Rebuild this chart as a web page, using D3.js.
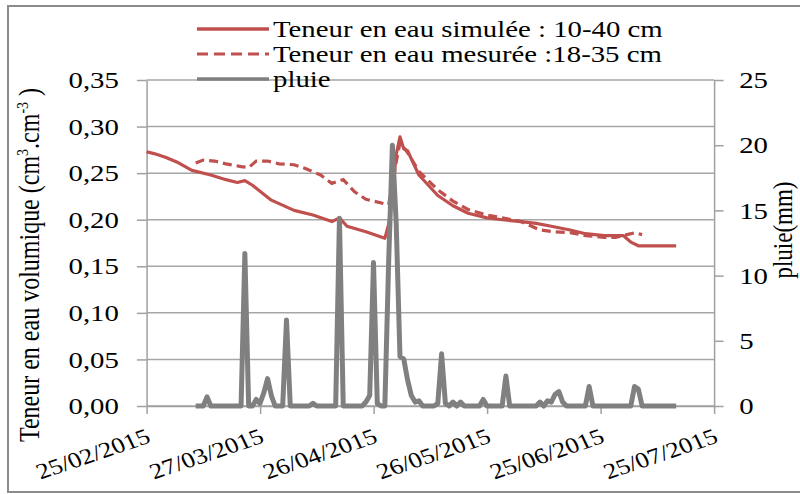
<!DOCTYPE html>
<meta charset="utf-8">
<style>
  body { margin: 0; background: #fff; }
  text { font-family: "Liberation Serif", "Times New Roman", serif; fill: #000; }
  .axis path, .axis line { stroke: #a0a0a0; stroke-width: 1.5px; }
  .grid line { stroke: #a6a6a6; stroke-width: 1.5px; }
</style>
<svg width="800" height="494"></svg>
<script src="https://d3js.org/d3.v7.min.js"></script>
<script>
// ---- data ----
var startDate = "25/02/2015";   // day 0
var xTickLabels = ["25/02/2015", "27/03/2015", "26/04/2015", "26/05/2015", "25/06/2015", "25/07/2015"];
var yTicks = [0, 0.05, 0.10, 0.15, 0.20, 0.25, 0.30, 0.35];
var rainTicks = [0, 5, 10, 15, 20, 25];
var legendLabels = ["Teneur en eau simulée : 10-40 cm", "Teneur en eau mesurée :18-35 cm", "pluie"];

// simulated water content (days since start, cm3/cm3)
var simDays = [0, 2, 5, 8, 12, 17, 21, 24, 26, 28, 33, 39, 44, 49, 51, 53, 58, 63, 64, 65,
               66, 67, 68, 69, 72, 77, 81, 85, 90, 94, 99, 103, 107, 112, 116, 121, 126, 128, 130, 140];
var simVals = [0.273, 0.271, 0.267, 0.262, 0.253, 0.248, 0.243, 0.240, 0.242, 0.237,
               0.221, 0.210, 0.205, 0.198, 0.202, 0.193, 0.187, 0.180, 0.195, 0.225,
               0.270, 0.289, 0.276, 0.274, 0.248, 0.226, 0.215, 0.207, 0.202, 0.200,
               0.198, 0.196, 0.193, 0.189, 0.185, 0.183, 0.183, 0.176, 0.172, 0.172];

// measured water content
var mesDays = [13, 15, 18, 21, 25, 27, 29, 32, 35, 39, 42, 46, 49, 52, 55, 58, 63, 64, 66, 67,
               69, 72, 77, 81, 85, 90, 94, 99, 104, 108, 112, 116, 121, 124, 127, 129, 131];
var mesVals = [0.261, 0.264, 0.263, 0.260, 0.257, 0.256, 0.263, 0.263, 0.260, 0.259,
               0.255, 0.248, 0.239, 0.243, 0.230, 0.222, 0.217, 0.216, 0.262, 0.283,
               0.272, 0.252, 0.232, 0.220, 0.211, 0.205, 0.202, 0.198, 0.189, 0.187,
               0.186, 0.183, 0.181, 0.181, 0.184, 0.186, 0.184];

// daily rain (mm), first value is day 13
var rainFirstDay = 13;
var rain = [0, 0, 0, 0.7, 0, 0, 0, 0, 0, 0,
            0, 0, 0, 11.7, 0, 0, 0.5, 0.2, 1.0, 2.1,
            0.8, 0, 0, 0, 6.6, 0, 0, 0, 0, 0,
            0, 0.2, 0, 0, 0, 0, 0, 0, 14.4, 0,
            0, 0, 0, 0, 0, 0.3, 0.8, 11.0, 0.2, 0,
            0, 11, 20, 14, 3.8, 3.6, 2.0, 0.8, 0.3, 0.4,
            0, 0, 0, 0, 0.2, 4.0, 0.2, 0, 0.3, 0,
            0.3, 0, 0, 0, 0, 0, 0.5, 0, 0, 0,
            0, 0, 2.3, 0, 0, 0, 0, 0, 0, 0,
            0, 0.3, 0, 0.4, 0.3, 0.9, 1.1, 0.3, 0, 0,
            0, 0, 0, 0, 1.5, 0, 0, 0, 0, 0,
            0, 0, 0, 0, 0, 0, 1.5, 1.3, 0, 0,
            0, 0, 0, 0, 0, 0, 0, 0];

// ---- drawing ----
var sx = 1.2;   // the reference picture is stretched horizontally
var svg = d3.select("svg");
var root = svg.append("g").attr("transform", "scale(" + sx + ",1)");

var parse = d3.timeParse("%d/%m/%Y");
var t0 = parse(startDate);
function dayDate(d) { return d3.timeDay.offset(t0, d); }

var x = d3.scaleTime()
    .domain([parse(xTickLabels[0]), parse(xTickLabels[xTickLabels.length - 1])])
    .range([146.5 / sx, 714 / sx]);
var y = d3.scaleLinear().domain([0, 0.35]).range([406, 80]);
var yr = d3.scaleLinear().domain([0, 25]).range([406, 80]);

var fr = d3.formatLocale({decimal: ",", thousands: " ", grouping: [3], currency: ["", " €"]});

// frame
root.append("rect")
    .attr("x", 8 / sx).attr("y", 6)
    .attr("width", 800 / sx).attr("height", 486)
    .attr("fill", "none")
    .attr("stroke", "#8c8c8c")
    .attr("stroke-width", 2)
    .attr("vector-effect", "non-scaling-stroke");

// gridlines
root.append("g").attr("class", "grid")
    .selectAll("line").data(yTicks).enter().append("line")
    .attr("x1", x.range()[0]).attr("x2", x.range()[1])
    .attr("y1", function(d) { return y(d); })
    .attr("y2", function(d) { return y(d); })
    .attr("vector-effect", "non-scaling-stroke");

// left axis
var gl = root.append("g").attr("class", "axis")
    .attr("transform", "translate(" + x.range()[0] + ",0)")
    .call(d3.axisLeft(y).tickValues(yTicks).tickFormat(fr.format(".2f"))
      .tickSize(8).tickSizeOuter(0).tickPadding(15));

// right axis
var gr = root.append("g").attr("class", "axis")
    .attr("transform", "translate(" + x.range()[1] + ",0)")
    .call(d3.axisRight(yr).tickValues(rainTicks).tickSize(8).tickSizeOuter(0).tickPadding(13));

// bottom axis
var gx = root.append("g").attr("class", "axis")
    .attr("transform", "translate(0," + y(0) + ")")
    .call(d3.axisBottom(x).tickValues(xTickLabels.map(parse))
      .tickFormat(d3.timeFormat("%d/%m/%Y")).tickSize(8).tickSizeOuter(0));

[gl, gr, gx].forEach(function(g) {
  g.attr("font-family", null).attr("font-size", null);
  g.selectAll("path, line").attr("vector-effect", "non-scaling-stroke");
  g.selectAll("text").style("font-size", "24px").attr("fill", "#000");
});

gx.selectAll("text")
    .style("font-size", "22px")
    .attr("text-anchor", "end")
    .attr("y", 0).attr("dy", 0)
    .attr("transform", "translate(4,36) rotate(-22)");

// axis titles
var lt = root.append("text")
    .attr("transform", "translate(" + (39 / sx) + ",265) rotate(-90)")
    .attr("text-anchor", "middle")
    .style("font-size", "24px");
lt.append("tspan").text("Teneur en eau volumique (cm");
lt.append("tspan").attr("dy", -9).style("font-size", "14px").text("3");
lt.append("tspan").attr("dy", 9).text(".cm");
lt.append("tspan").attr("dy", -9).style("font-size", "14px").text("-3");
lt.append("tspan").attr("dy", 9).text(" )");

root.append("text")
    .attr("transform", "translate(" + (792 / sx) + ",230) rotate(-90)")
    .attr("text-anchor", "middle")
    .style("font-size", "23px")
    .text("pluie(mm)");

// series
var line = d3.line()
    .x(function(d) { return x(dayDate(d[0])); })
    .y(function(d) { return d[1]; });

var simPts = simDays.map(function(d, i) { return [d, y(simVals[i])]; });
var mesPts = mesDays.map(function(d, i) { return [d, y(mesVals[i])]; });
var rainPts = rain.map(function(v, i) { return [rainFirstDay + i, yr(v)]; });

root.append("path").datum(simPts)
    .attr("d", line)
    .attr("fill", "none").attr("stroke", "#c0504d")
    .attr("stroke-width", 3.2).attr("stroke-linejoin", "round")
    .attr("vector-effect", "non-scaling-stroke");

root.append("path").datum(mesPts)
    .attr("d", line)
    .attr("fill", "none").attr("stroke", "#c0504d")
    .attr("stroke-width", 3.2).attr("stroke-dasharray", "9,5")
    .attr("vector-effect", "non-scaling-stroke");

root.append("path").datum(rainPts)
    .attr("d", line)
    .attr("fill", "none").attr("stroke", "#808080")
    .attr("stroke-width", 5).attr("stroke-linejoin", "round")
    .attr("vector-effect", "non-scaling-stroke");

// legend
var legStyles = [
  {stroke: "#c0504d", dash: null, w: 3.5},
  {stroke: "#c0504d", dash: "11,6", w: 3},
  {stroke: "#808080", dash: null, w: 3.5}
];
var leg = root.append("g");
legendLabels.forEach(function(lab, i) {
  var ly = 29 + i * 25;
  leg.append("line")
      .attr("x1", 197 / sx).attr("x2", 269 / sx)
      .attr("y1", ly).attr("y2", ly)
      .attr("stroke", legStyles[i].stroke)
      .attr("stroke-width", legStyles[i].w)
      .attr("stroke-dasharray", legStyles[i].dash)
      .attr("vector-effect", "non-scaling-stroke");
  leg.append("text")
      .attr("x", 273 / sx).attr("y", ly + 8)
      .style("font-size", "24px")
      .text(lab);
});
</script>
